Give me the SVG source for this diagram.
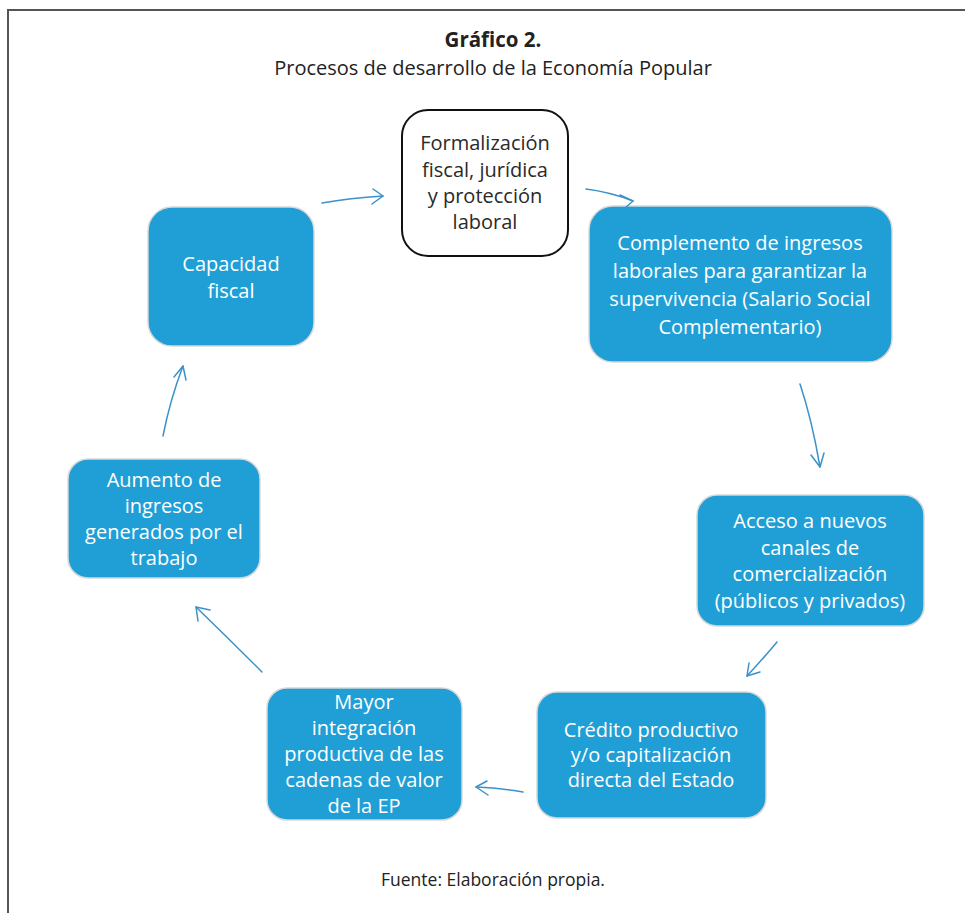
<svg xmlns="http://www.w3.org/2000/svg" width="965" height="913" viewBox="0 0 965 913">
<style>
.frame{fill:none;stroke:#555;stroke-width:2}
.box{fill:#209fd6;stroke:#d8d8d8;stroke-width:1.5}
.wbox{fill:#fff;stroke:#111;stroke-width:2}
.t{font-family:"Open Sans","Liberation Sans",sans-serif;font-size:20px;fill:#fff;text-anchor:middle}
.tk{font-family:"Open Sans","Liberation Sans",sans-serif;font-size:20px;fill:#2a2a2a;text-anchor:middle}
.cap{font-family:"Open Sans","Liberation Sans",sans-serif;fill:#222;text-anchor:middle}
.arr{fill:none;stroke:#3b91c9;stroke-width:1.5;stroke-linecap:round;stroke-linejoin:round}
</style>
<rect width="965" height="913" fill="#fff"/>
<path class="frame" d="M8,913 V10 H965"/>
<text class="cap" x="493" y="47" font-size="20.5" font-weight="bold">Gráfico 2.</text>
<text class="cap" x="493" y="75" font-size="20">Procesos de desarrollo de la Economía Popular</text>
<text class="cap" x="493" y="886" font-size="17.5">Fuente: Elaboración propia.</text>

<g id="n1">
<rect class="wbox" x="402" y="110" width="166" height="146" rx="26"/>
<text class="tk" x="485" y="150">Formalización</text>
<text class="tk" x="485" y="177">fiscal, jurídica</text>
<text class="tk" x="485" y="203">y protección</text>
<text class="tk" x="485" y="229">laboral</text>
</g>
<g id="n2">
<rect class="box" x="589" y="206" width="303" height="156" rx="24"/>
<text class="t" x="740" y="250">Complemento de ingresos</text>
<text class="t" x="740" y="278">laborales para garantizar la</text>
<text class="t" x="740" y="306">supervivencia (Salario Social</text>
<text class="t" x="740" y="334">Complementario)</text>
</g>
<g id="n3">
<rect class="box" x="697" y="495" width="227" height="131" rx="20"/>
<text class="t" x="810" y="528">Acceso a nuevos</text>
<text class="t" x="810" y="555">canales de</text>
<text class="t" x="810" y="581">comercialización</text>
<text class="t" x="810" y="608">(públicos y privados)</text>
</g>
<g id="n4">
<rect class="box" x="537" y="692" width="229" height="126" rx="20"/>
<text class="t" x="651" y="737">Crédito productivo</text>
<text class="t" x="651" y="762">y/o capitalización</text>
<text class="t" x="651" y="787">directa del Estado</text>
</g>
<g id="n5">
<rect class="box" x="267" y="688" width="195" height="132" rx="20"/>
<text class="t" x="364" y="709">Mayor</text>
<text class="t" x="364" y="735">integración</text>
<text class="t" x="364" y="761">productiva de las</text>
<text class="t" x="364" y="787">cadenas de valor</text>
<text class="t" x="364" y="813">de la EP</text>
</g>
<g id="n6">
<rect class="box" x="68" y="459" width="192" height="119" rx="20"/>
<text class="t" x="164" y="487">Aumento de</text>
<text class="t" x="164" y="513">ingresos</text>
<text class="t" x="164" y="539">generados por el</text>
<text class="t" x="164" y="565">trabajo</text>
</g>
<g id="n7">
<rect class="box" x="148" y="207" width="166" height="139" rx="24"/>
<text class="t" x="231" y="271">Capacidad</text>
<text class="t" x="231" y="298">fiscal</text>
</g>

<g id="connectors">
<path class="arr" d="M322,203 Q350,198 383,196"/>
<path class="arr" d="M373,189 L383,196 L372,204"/>
<path class="arr" d="M586,189 Q610,192 633,201"/>
<path class="arr" d="M620,195 L633,201 L625,208"/>
<path class="arr" d="M800,384 Q812,420 820,467"/>
<path class="arr" d="M811,455 L820,467 L824,453"/>
<path class="arr" d="M777,642 Q762,660 747,676"/>
<path class="arr" d="M749,663 L747,676 L760,672"/>
<path class="arr" d="M523,792 Q500,788 476,787"/>
<path class="arr" d="M487,781 L476,787 L488,795"/>
<path class="arr" d="M262,672 Q230,640 196,607"/>
<path class="arr" d="M198,621 L196,607 L210,610"/>
<path class="arr" d="M163,436 Q170,400 183,366"/>
<path class="arr" d="M174,377 L183,366 L186,380"/>
</g>
</svg>
